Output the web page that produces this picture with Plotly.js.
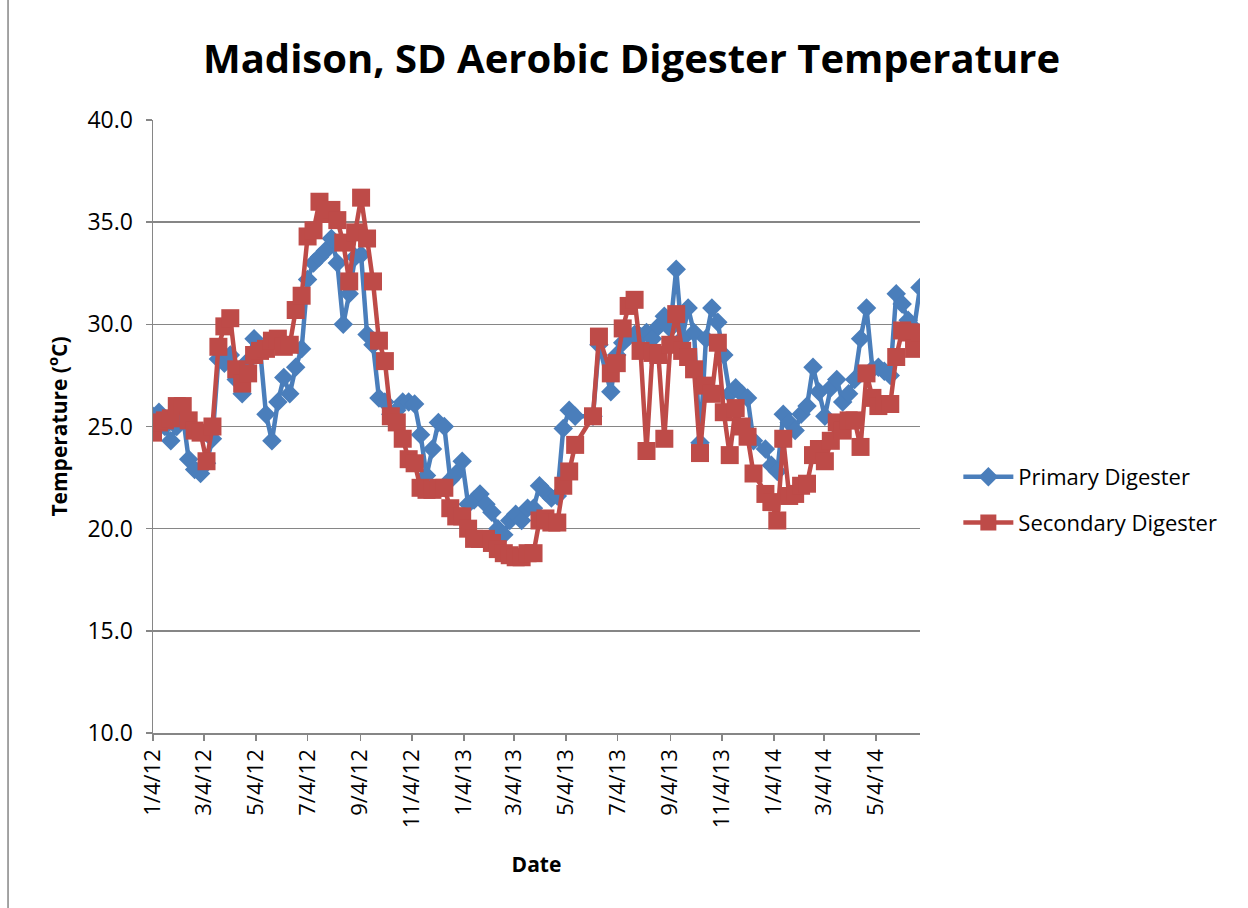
<!DOCTYPE html>
<html>
<head>
<meta charset="utf-8">
<script src="https://cdn.plot.ly/plotly-3.0.1.min.js"></script>
<style>html,body{margin:0;padding:0;background:#fff;}#chart{width:1248px;height:908px;}</style>
</head>
<body>
<div id="chart"></div>
<script>
const dates = [
 "2012-01-04","2012-01-11","2012-01-18","2012-01-25","2012-02-01","2012-02-08","2012-02-15","2012-02-22","2012-02-29",
 "2012-03-07","2012-03-14","2012-03-21","2012-03-28","2012-04-04","2012-04-11","2012-04-18","2012-04-25",
 "2012-05-02","2012-05-09","2012-05-16","2012-05-23","2012-05-30","2012-06-06","2012-06-13","2012-06-20","2012-06-27",
 "2012-07-04","2012-07-11","2012-07-18","2012-07-25","2012-08-01","2012-08-08","2012-08-15","2012-08-22","2012-08-29",
 "2012-09-05","2012-09-12","2012-09-19","2012-09-26","2012-10-03","2012-10-10","2012-10-17","2012-10-24","2012-10-31",
 "2012-11-07","2012-11-14","2012-11-21","2012-11-28","2012-12-05","2012-12-12","2012-12-19","2012-12-26",
 "2013-01-02","2013-01-09","2013-01-16","2013-01-23","2013-01-30","2013-02-06","2013-02-13","2013-02-20","2013-02-27",
 "2013-03-06","2013-03-13","2013-03-20","2013-03-27","2013-04-03","2013-04-10","2013-04-17","2013-04-24",
 "2013-05-01","2013-05-08","2013-05-15","2013-06-05","2013-06-12","2013-06-26",
 "2013-07-03","2013-07-10","2013-07-17","2013-07-24","2013-07-31","2013-08-07","2013-08-14","2013-08-21","2013-08-28",
 "2013-09-04","2013-09-11","2013-09-18","2013-09-25","2013-10-02","2013-10-09","2013-10-16","2013-10-23","2013-10-30",
 "2013-11-06","2013-11-13","2013-11-20","2013-11-27","2013-12-04","2013-12-11","2013-12-25",
 "2014-01-01","2014-01-08","2014-01-15","2014-01-22","2014-01-29","2014-02-05","2014-02-12","2014-02-19","2014-02-26",
 "2014-03-05","2014-03-12","2014-03-19","2014-03-26","2014-04-02","2014-04-09","2014-04-16","2014-04-23","2014-04-30",
 "2014-05-07","2014-05-14","2014-05-21","2014-05-28","2014-06-04","2014-06-11","2014-06-18","2014-06-25"
];
const primary = [
 25.5,25.7,25.0,24.3,25.0,25.6,23.4,22.9,22.7,
 23.2,24.4,28.3,28.1,28.5,27.3,26.6,28.2,
 29.3,28.8,25.6,24.3,26.2,27.4,26.6,27.9,28.8,
 32.2,33.0,33.3,33.6,34.2,33.0,30.0,31.5,33.3,
 33.4,29.5,29.0,26.4,26.2,25.6,25.8,26.2,26.2,
 26.1,24.6,22.6,23.9,25.2,25.0,22.4,22.7,
 23.3,21.2,21.4,21.7,21.2,20.8,20.0,19.7,20.4,
 20.7,20.4,21.0,21.0,22.1,21.8,21.5,21.6,
 24.9,25.8,25.5,25.5,29.0,26.7,
 28.5,29.1,29.4,29.5,29.4,29.6,29.3,29.9,30.4,
 29.8,32.7,29.3,30.8,29.6,24.2,29.3,30.8,30.1,
 28.5,26.6,26.9,26.6,26.4,24.3,23.9,
 23.1,22.8,25.6,25.2,24.8,25.6,26.0,27.9,26.7,
 25.5,26.9,27.3,26.2,26.6,27.3,29.3,30.8,27.8,
 27.9,27.7,27.5,31.5,31.0,30.2,29.8,31.8
];
const secondary = [
 24.7,25.2,25.3,25.4,26.0,26.0,25.3,24.8,24.7,
 23.3,25.0,28.9,29.9,30.3,27.8,27.1,27.6,
 28.5,28.7,28.8,29.2,29.3,28.9,29.0,30.7,31.4,
 34.3,34.6,36.0,35.4,35.6,35.1,34.0,32.1,34.5,
 36.2,34.2,32.1,29.2,28.2,25.5,25.2,24.4,23.4,
 23.2,22.0,21.9,21.9,22.0,22.0,21.0,20.6,
 20.6,20.0,19.5,19.5,19.5,19.3,19.0,18.8,18.7,
 18.6,18.6,18.8,18.8,20.4,20.5,20.3,20.3,
 22.1,22.8,24.1,25.5,29.4,27.6,
 28.1,29.8,30.9,31.2,28.7,23.8,28.6,28.5,24.4,
 29.0,30.5,28.7,28.4,27.8,23.7,27.0,26.6,29.1,
 25.7,23.6,25.9,25.0,24.5,22.7,21.7,
 21.3,20.4,24.4,21.6,21.7,22.1,22.2,23.6,23.9,
 23.3,24.3,25.2,24.8,25.3,25.3,24.0,27.6,26.4,
 26.0,26.1,26.1,28.4,29.7,29.6,28.8,29.6
];
const tickDates = ["2012-01-04","2012-03-04","2012-05-04","2012-07-04","2012-09-04","2012-11-04",
 "2013-01-04","2013-03-04","2013-05-04","2013-07-04","2013-09-04","2013-11-04",
 "2014-01-04","2014-03-04","2014-05-04"];
const tickLabels = ["1/4/12","3/4/12","5/4/12","7/4/12","9/4/12","11/4/12",
 "1/4/13","3/4/13","5/4/13","7/4/13","9/4/13","11/4/13",
 "1/4/14","3/4/14","5/4/14"];
const seriesNames = ["Primary Digester","Secondary Digester"];

const FONT = "Open Sans, Liberation Sans, sans-serif";
const traces = [
 {x: dates, y: primary, name: seriesNames[0], type: "scatter", mode: "lines+markers",
  legendgroup: "a",
  line: {color: "#4A7EBB", width: 4.5},
  marker: {symbol: "diamond", size: 15, color: "#4A7EBB", line: {width: 0}}},
 {x: dates, y: secondary, name: seriesNames[1], type: "scatter", mode: "lines+markers",
  legendgroup: "b",
  line: {color: "#BE4B48", width: 4.5},
  marker: {symbol: "square", size: 18, color: "#BE4B48", line: {width: 0}}}
];
const layout = {
 width: 1248, height: 908,
 margin: {l: 153, r: 328, t: 120, b: 175, pad: 0},
 paper_bgcolor: "#fff", plot_bgcolor: "#fff",
 font: {family: FONT, color: "#000", size: 22},
 title: {text: "<b>Madison, SD Aerobic Digester Temperature</b>", font: {family: FONT, size: 40, color: "#000"},
   x: 0.506, xanchor: "center", y: 0.935, yanchor: "middle"},
 showlegend: true,
 legend: {x: 1.05, y: 0.38, xanchor: "left", yanchor: "middle", font: {family: FONT, size: 22, color: "#000"},
   tracegroupgap: 14, traceorder: "grouped", itemwidth: 50, bgcolor: "rgba(0,0,0,0)"},
 xaxis: {type: "date", range: ["2012-01-04", "2014-06-25"],
   tickvals: tickDates, ticktext: tickLabels, tickangle: -90,
   ticks: "outside", ticklen: 6, tickcolor: "#868686", tickwidth: 1.5,
   showline: true, linecolor: "#868686", linewidth: 1.5,
   showgrid: false, zeroline: false,
   tickfont: {family: FONT, size: 22, color: "#000"},
   title: {text: "<b>Date</b>", font: {family: FONT, size: 21, color: "#000"}, standoff: 30}},
 yaxis: {range: [10, 40], dtick: 5, tick0: 10, tickformat: ".1f",
   ticks: "outside", ticklen: 6, tickcolor: "#868686", tickwidth: 1.5,
   showline: true, linecolor: "#868686", linewidth: 1.5,
   showgrid: true, gridcolor: "#868686", gridwidth: 1.5, zeroline: false,
   ticklabelstandoff: 8,
   tickfont: {family: FONT, size: 23, color: "#000"},
   title: {text: "<b>Temperature (<sup>o</sup>C)</b>", font: {family: FONT, size: 21, color: "#000"}, standoff: 14}},
 shapes: [
   {type: "line", xref: "paper", yref: "paper", x0: -0.189, x1: -0.189, y0: -0.3, y1: 1.25,
    line: {color: "#868686", width: 1.5}}
 ]
};
Plotly.newPlot("chart", traces, layout, {displayModeBar: false, staticPlot: true});
</script>
</body>
</html>
